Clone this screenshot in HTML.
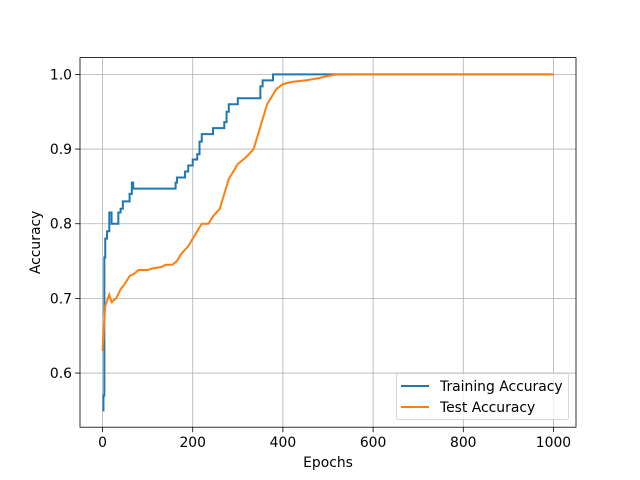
<!DOCTYPE html>
<html><head><meta charset="utf-8"><style>body{margin:0;background:#fff}svg{display:block;font-family:"DejaVu Sans","Liberation Sans",sans-serif}</style></head>
<body>
<svg id="c" width="640" height="480" xmlns="http://www.w3.org/2000/svg"></svg>
<script>
const trainEpochs=[0,2,4,6,10,15,20,30,35,40,45,55,60,65,68,160,162,165,180,183,190,200,210,215,220,240,245,265,270,275,280,295,300,345,350,355,375,378,1000];
const trainAcc=[0.55,0.57,0.755,0.78,0.79,0.815,0.80,0.80,0.815,0.82,0.83,0.83,0.84,0.855,0.847,0.847,0.855,0.862,0.862,0.87,0.878,0.886,0.893,0.91,0.92,0.92,0.928,0.928,0.936,0.95,0.96,0.96,0.968,0.968,0.984,0.992,0.992,1.0,1.0];
const testEpochs=[0,3,6,12,15,20,30,40,50,60,70,80,100,110,130,140,155,165,175,190,200,210,220,235,245,260,270,280,290,300,320,335,345,355,365,375,385,400,420,450,480,500,520,1000];
const testAcc=[0.63,0.66,0.69,0.70,0.705,0.695,0.70,0.712,0.72,0.73,0.733,0.738,0.738,0.74,0.742,0.745,0.745,0.75,0.76,0.77,0.78,0.79,0.80,0.80,0.81,0.82,0.84,0.86,0.87,0.88,0.89,0.90,0.92,0.94,0.96,0.97,0.98,0.987,0.99,0.992,0.995,0.998,1.0,1.0];
const xTicks=[0,200,400,600,800,1000];
const yTicks=[0.6,0.7,0.8,0.9,1.0];
const L=80,R=576,T=57.6,B=427.2,x0=-50,x1=1050,y0=0.5275,y1=1.0225;
const X=v=>L+(v-x0)/(x1-x0)*(R-L);
const Y=v=>B-(v-y0)/(y1-y0)*(B-T);
const FS=13.9;
const svg=document.getElementById('c');const NS='http://www.w3.org/2000/svg';
function mk(t,a,p){const e=document.createElementNS(NS,t);for(const k in a)e.setAttribute(k,a[k]);(p||svg).appendChild(e);return e;}
xTicks.forEach(t=>{
const g=mk('line',{x1:X(t),x2:X(t),y1:T,y2:B,stroke:'#b0b0b0','stroke-width':0.8});


mk('line',{x1:X(t),x2:X(t),y1:B,y2:B+4.9,stroke:'#000','stroke-width':0.8});
const tx=mk('text',{x:X(t),y:B+20,'text-anchor':'middle','font-size':FS});tx.textContent=t;


});
yTicks.forEach(t=>{
const g=mk('line',{x1:L,x2:R,y1:Y(t),y2:Y(t),stroke:'#b0b0b0','stroke-width':0.8});


mk('line',{x1:L-4.9,x2:L,y1:Y(t),y2:Y(t),stroke:'#000','stroke-width':0.8});
const tx=mk('text',{x:L-8,y:Y(t)+5,'text-anchor':'end','font-size':FS});tx.textContent=t.toFixed(1);


});
function stepPts(xs,ys){let p=[];for(let i=0;i<xs.length;i++){if(i>0)p.push(X(xs[i])+','+Y(ys[i-1]));p.push(X(xs[i])+','+Y(ys[i]));}return p.join(' ');}
function linPts(xs,ys){return xs.map((x,i)=>X(x)+','+Y(ys[i])).join(' ');}
const l1=mk('polyline',{points:stepPts(trainEpochs,trainAcc),fill:'none',stroke:'#1f77b4','stroke-width':2});


const l2=mk('polyline',{points:linPts(testEpochs,testAcc),fill:'none',stroke:'#ff7f0e','stroke-width':2});


const fr=mk('rect',{x:L,y:T,width:R-L,height:B-T,fill:'none',stroke:'#000','stroke-width':0.8});


const xl=mk('text',{x:(L+R)/2,y:467,'text-anchor':'middle','font-size':FS});xl.textContent='Epochs';


const yl=mk('text',{x:0,y:0,'text-anchor':'middle','font-size':FS,transform:`translate(40,${(T+B)/2}) rotate(-90)`});yl.textContent='Accuracy';


const lg=mk('g',{});


mk('rect',{x:396.5,y:373.5,width:172,height:46,rx:2,fill:'#fff','fill-opacity':0.8,stroke:'#ccc','stroke-width':0.8},lg);
[['Training Accuracy','#1f77b4',386],['Test Accuracy','#ff7f0e',407]].forEach(([n,c,y])=>{
const e=mk('g',{},lg);


mk('line',{x1:401,x2:429,y1:y,y2:y,stroke:c,'stroke-width':2},e);
const t=mk('text',{x:440,y:y+5,'font-size':FS},e);t.textContent=n;
});
</script>
</body></html>
